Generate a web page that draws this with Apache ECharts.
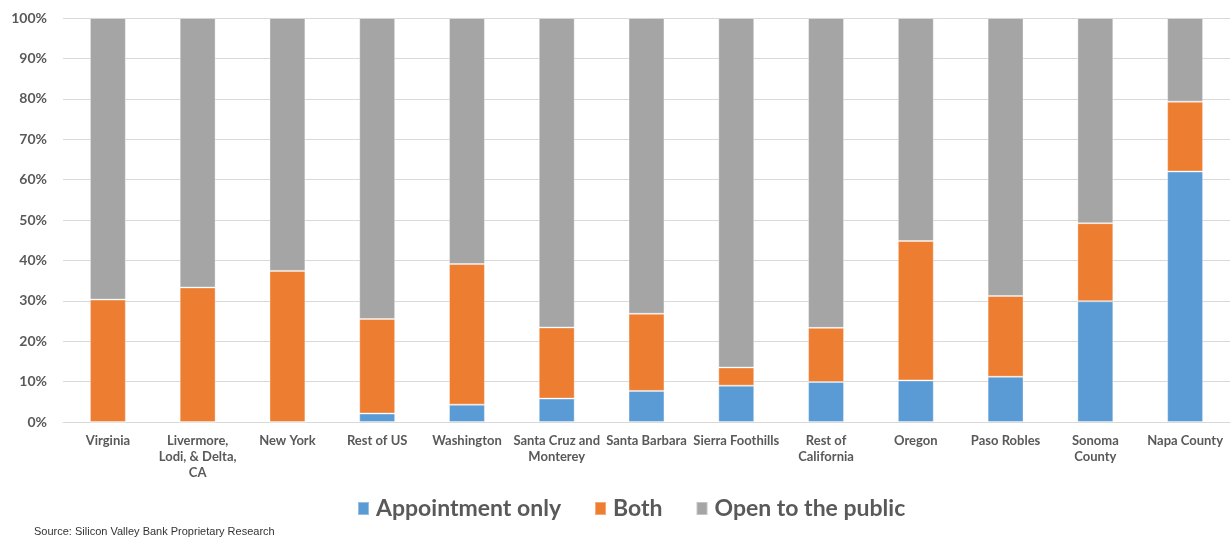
<!DOCTYPE html>
<html>
<head>
<meta charset="utf-8">
<script src="https://cdn.jsdelivr.net/npm/echarts@6/dist/echarts.min.js"></script>
<style>
html,body{margin:0;padding:0;background:#fff;}
#chart{width:1231px;height:537px;}
</style>
</head>
<body>
<div id="chart"></div>
<script>
const categories = ["Virginia","Livermore, Lodi, & Delta, CA","New York","Rest of US","Washington","Santa Cruz and Monterey","Santa Barbara","Sierra Foothills","Rest of California","Oregon","Paso Robles","Sonoma County","Napa County"];
const xTickLabels = ["Virginia","Livermore,\nLodi, & Delta,\nCA","New York","Rest of US","Washington","Santa Cruz and\nMonterey","Santa Barbara","Sierra Foothills","Rest of\nCalifornia","Oregon","Paso Robles","Sonoma\nCounty","Napa County"];
const appointmentOnly = [0,0,0,2.1,4.3,5.8,7.7,9.0,9.9,10.3,11.2,29.9,62.0];
const both = [30.3,33.3,37.4,23.4,34.8,17.6,19.1,4.5,13.4,34.5,20.0,19.3,17.3];
const openToPublic = [69.7,66.7,62.6,74.5,60.9,76.6,73.2,86.5,76.7,55.2,68.8,50.8,20.7];
const seriesNames = ["Appointment only","Both","Open to the public"];
const sourceText = "Source: Silicon Valley Bank Proprietary Research";

const chart = echarts.init(document.getElementById('chart'));
const barStyle = (c) => ({color:c, borderColor:'rgba(255,255,255,0.35)', borderWidth:1});
chart.setOption({
  animation:false,
  grid:{left:63,right:1,top:18,bottom:115,containLabel:false},
  legend:{
    data:seriesNames, bottom:12, left:352,
    itemWidth:11, itemHeight:13, itemGap:33,
    icon:'rect',
    textStyle:{fontFamily:'Lato', fontWeight:'bold', fontSize:23, color:'#595959', padding:[0,0,0,2]}
  },
  graphic:[{type:'text', left:34, top:526, style:{text:sourceText, font:'11px "Liberation Sans", Arial', fill:'#333'}}],
  xAxis:{
    type:'category', data:categories,
    axisTick:{show:false},
    axisLine:{lineStyle:{color:'#d9d9d9'}},
    axisLabel:{interval:0, margin:11, lineHeight:16, fontFamily:'Lato', fontWeight:'bold', fontSize:13, color:'#595959',
      formatter:(v,i)=>xTickLabels[i]}
  },
  yAxis:{
    type:'value', min:0, max:100, interval:10,
    axisLabel:{formatter:'{value}%', fontFamily:'Lato', fontWeight:'bold', fontSize:14, color:'#595959', margin:16},
    splitLine:{lineStyle:{color:'#d9d9d9'}},
    axisLine:{show:false}, axisTick:{show:false}
  },
  series:[
    {name:seriesNames[0], type:'bar', stack:'s', data:appointmentOnly, barWidth:'40%', itemStyle:barStyle('#5b9bd5')},
    {name:seriesNames[1], type:'bar', stack:'s', data:both, itemStyle:barStyle('#ed7d31')},
    {name:seriesNames[2], type:'bar', stack:'s', data:openToPublic, itemStyle:barStyle('#a5a5a5')}
  ]
});
</script>
</body>
</html>
